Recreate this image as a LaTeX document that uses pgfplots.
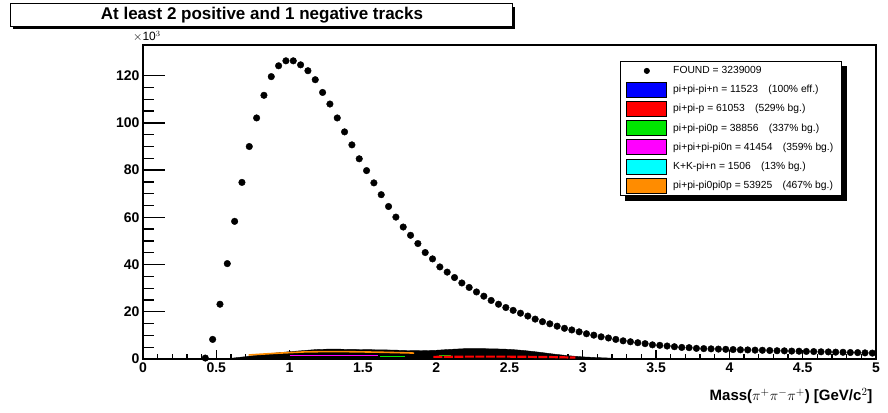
\documentclass[border=0pt]{standalone}
\usepackage{fontspec}
\setmainfont{Liberation Sans}
\usepackage{pgfplots}
\pgfplotsset{compat=1.18}
\usetikzlibrary{backgrounds}

\definecolor{rootOrange}{RGB}{255,140,0}
\definecolor{rootGreen}{RGB}{0,230,0}
\definecolor{rootRed}{RGB}{255,0,0}
\definecolor{rootBlue}{RGB}{0,0,255}
\definecolor{rootMagenta}{RGB}{255,0,255}
\definecolor{rootCyan}{RGB}{0,255,255}

\pgfplotsset{
  rootframe/.style={
    at={(143pt,53pt)}, anchor=south west, scale only axis,
    width=733pt, height=314pt,
    xmin=0, xmax=5, ymin=0, ymax=133,
    tick align=inside, tick pos=left,
    axis line style={line width=1.1pt},
    every tick/.style={black, line width=1.3pt},
    /pgf/number format/assume math mode=true,
    ticklabel style={font=\bfseries\fontsize{14}{16}\selectfont},
  },
  boxleg/.style={legend image code/.code={
    \draw[line width=0.8pt, draw=black, fill=#1] (0pt,-7.5pt) rectangle (40pt,7.5pt);}},
}

\begin{document}
\begin{tikzpicture}[x=1pt,y=1pt]
\useasboundingbox (0,0) rectangle (888,412);

% y axis ticks (long, ROOT style)
\begin{axis}[rootframe,
  xtick=\empty,
  ytick={0,20,40,60,80,100,120}, minor y tick num=3,
  major tick length=22pt, minor tick length=11pt]
\end{axis}

% data, x ticks, legend
\begin{axis}[rootframe,
  ytick=\empty,
  xtick={0,0.5,1,1.5,2,2.5,3,3.5,4,4.5,5}, minor x tick num=4,
  major tick length=9.4pt, minor tick length=4.7pt,
  xlabel={Mass($\pi^{+}\pi^{-}\pi^{+}$) [GeV/c$^{2}$]},
  xlabel style={at={(axis description cs:1,0)}, anchor=east, yshift=-37pt,
    font=\bfseries\fontsize{15}{17}\selectfont},
  legend cell align=left,
  legend style={name=leg, at={(0.6508,0.949)}, anchor=north west,
    draw=black, line width=0.8pt, fill=white,
    font=\fontsize{10.3}{12}\selectfont, row sep=3.4pt, column sep=4pt,
    inner xsep=6pt, inner ysep=2pt},
]

% summed background channels (dominated by black outlines)
\addplot[fill=black, draw=black, forget plot] coordinates {
(0.55,0) (0.6,0.3) (0.7,1.0) (0.8,1.8) (0.9,2.5) (1.0,3.1) (1.1,3.6) (1.2,4.1)
(1.3,4.2) (1.4,4.1) (1.5,4.0) (1.6,3.9) (1.7,3.8) (1.8,3.6) (1.9,3.5) (2.0,3.7)
(2.1,4.1) (2.2,4.4) (2.3,4.4) (2.4,4.3) (2.5,4.1) (2.6,3.6) (2.7,2.9) (2.8,2.1)
(2.9,1.4) (3.0,0.9) (3.1,0.6) (3.2,0.35) (3.3,0.15) (3.4,0)} \closedcycle;

\addplot[rootOrange, line width=1.6pt, forget plot] coordinates {
(0.72,1.7) (0.9,2.4) (1.0,2.7) (1.1,3.0) (1.2,3.1) (1.4,3.1) (1.6,2.9) (1.8,2.6) (1.85,2.5)};
\addplot[rootMagenta, line width=1.2pt, forget plot] coordinates {
(1.0,1.6) (1.6,1.6)};
\addplot[rootGreen, line width=1pt, forget plot] coordinates {
(1.62,0.85) (1.79,0.85)};
\addplot[rootGreen, line width=1pt, forget plot] coordinates {
(2.02,1.6) (2.1,1.6)};
\addplot[rootRed, line width=2.2pt, dash pattern=on 9pt off 1.5pt, forget plot] coordinates {
(1.98,0.9) (2.2,1.0) (2.5,1.0) (2.8,0.8) (2.95,0.6)};

% FOUND
\addplot[only marks, mark=*, mark size=3.3pt, black, forget plot] coordinates {
(0.425,0.4) (0.475,8.3) (0.525,23.2) (0.575,40.4) (0.625,58.3) (0.675,74.8)
(0.725,90.0) (0.775,102.1) (0.825,111.7) (0.875,119.6) (0.925,124.2) (0.975,126.3)
(1.025,126.3) (1.075,124.6) (1.125,122.1) (1.175,118.3) (1.225,112.9) (1.275,108.0)
(1.325,102.1) (1.375,96.2) (1.425,90.7) (1.475,84.8) (1.525,79.8) (1.575,74.6)
(1.625,69.6) (1.675,64.6) (1.725,60.1) (1.775,55.9) (1.825,52.4) (1.875,48.9)
(1.925,45.1) (1.975,42.4) (2.025,39.0) (2.075,36.8) (2.125,34.5) (2.175,32.2)
(2.225,30.3) (2.275,28.4) (2.325,26.6) (2.375,24.8) (2.425,23.2) (2.475,21.8)
(2.525,20.6) (2.575,19.4) (2.625,18.2) (2.675,16.9) (2.725,15.8) (2.775,14.9)
(2.825,13.9) (2.875,13.0) (2.925,12.3) (2.975,11.5) (3.025,10.7) (3.075,10.1)
(3.125,9.4) (3.175,8.9) (3.225,8.3) (3.275,7.7) (3.325,7.3) (3.375,6.9)
(3.425,6.5) (3.475,6.0) (3.525,5.8) (3.575,5.5) (3.625,5.2) (3.675,4.9)
(3.725,4.8) (3.775,4.5) (3.825,4.4) (3.875,4.3) (3.925,4.2) (3.975,4.1)
(4.025,4.0) (4.075,3.9) (4.125,3.85) (4.175,3.75) (4.225,3.7) (4.275,3.6)
(4.325,3.5) (4.375,3.45) (4.425,3.35) (4.475,3.3) (4.525,3.2) (4.575,3.15)
(4.625,3.05) (4.675,3.0) (4.725,2.9) (4.775,2.85) (4.825,2.75) (4.875,2.7)
(4.925,2.6) (4.975,2.5)};

\addlegendimage{legend image code/.code={
  \path[draw=none, fill=none] (0pt,-7.5pt) rectangle (40pt,7.5pt);
  \fill[black] (20pt,0pt) circle (2.6pt);}}
\addlegendentry{FOUND = 3239009}
\addlegendimage{boxleg=rootBlue}
\addlegendentry{pi+pi-pi+n = 11523\quad(100\% eff.)}
\addlegendimage{boxleg=rootRed}
\addlegendentry{pi+pi-p = 61053\quad(529\% bg.)}
\addlegendimage{boxleg=rootGreen}
\addlegendentry{pi+pi-pi0p = 38856\quad(337\% bg.)}
\addlegendimage{boxleg=rootMagenta}
\addlegendentry{pi+pi+pi-pi0n = 41454\quad(359\% bg.)}
\addlegendimage{boxleg=rootCyan}
\addlegendentry{K+K-pi+n = 1506\quad(13\% bg.)}
\addlegendimage{boxleg=rootOrange}
\addlegendentry{pi+pi-pi0pi0p = 53925\quad(467\% bg.)}
\end{axis}

% legend shadow
\begin{pgfonlayer}{background}
\fill[black] ([shift={(5pt,-5pt)}]leg.south west) rectangle ([shift={(5pt,-5pt)}]leg.north east);
\end{pgfonlayer}

\node[anchor=base west, font=\fontsize{12}{14}\selectfont, inner sep=0pt] at (133,371) {$\times$10$^{3}$};

% title box
\fill[black] (13,383) rectangle (515,405);
\draw[fill=white, line width=1pt] (10,385) rectangle (512,408);
\node[font=\bfseries\fontsize{17}{19}\selectfont] at (262,397) {At least 2 positive and 1 negative tracks};
\end{tikzpicture}
\end{document}
